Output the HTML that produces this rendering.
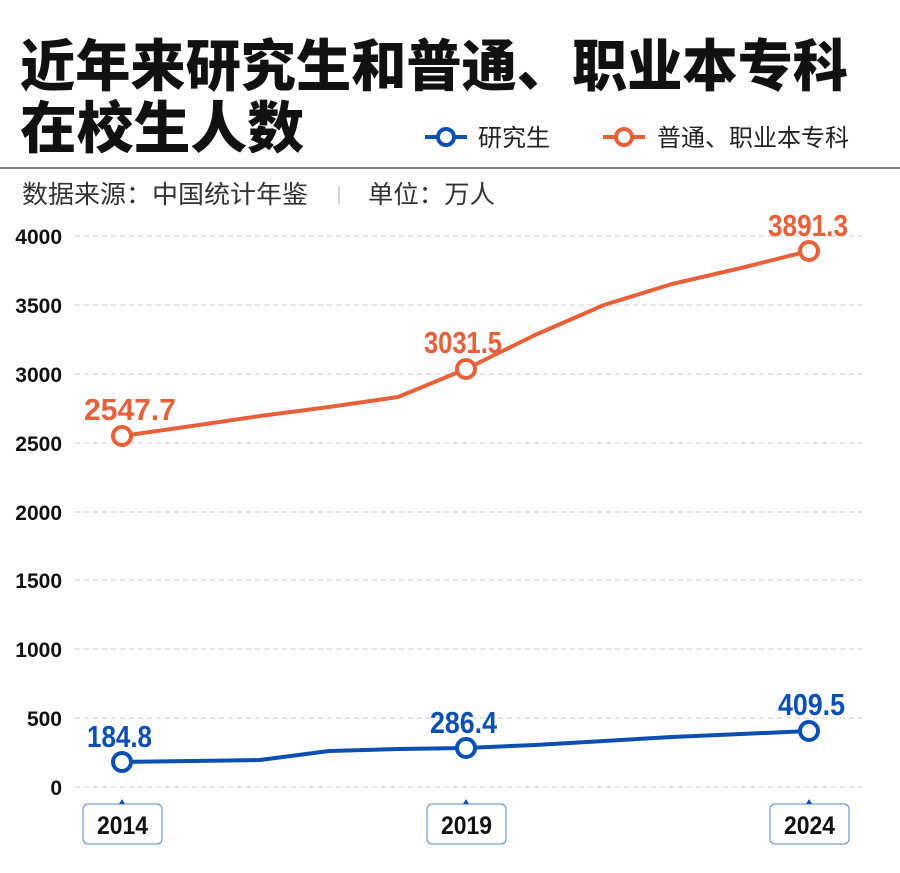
<!DOCTYPE html>
<html><head><meta charset="utf-8"><style>
body{margin:0;background:#fff;}
svg text{font-family:"Liberation Sans","Noto Sans CJK SC",sans-serif;}
</style></head><body>
<svg width="900" height="868" xmlns="http://www.w3.org/2000/svg">
<rect width="900" height="868" fill="#fff"/>
<text x="20" y="86" font-size="56" font-weight="900" fill="#111" textLength="828" lengthAdjust="spacingAndGlyphs" style="font-family:'Noto Sans CJK SC',sans-serif">近年来研究生和普通、职业本专科</text>
<text x="20" y="148" font-size="56" font-weight="900" fill="#111" textLength="284" lengthAdjust="spacingAndGlyphs" style="font-family:'Noto Sans CJK SC',sans-serif">在校生人数</text>
<line x1="425" y1="137" x2="467" y2="137" stroke="#0b4fb3" stroke-width="4"/>
<circle cx="446" cy="137" r="8" fill="#fff" stroke="#0b4fb3" stroke-width="4"/>
<text x="478" y="146" font-size="24" fill="#222" style="font-family:'Noto Sans CJK SC',sans-serif">研究生</text>
<line x1="603" y1="137" x2="645" y2="137" stroke="#e8603a" stroke-width="4"/>
<circle cx="624" cy="137" r="8" fill="#fff" stroke="#e8603a" stroke-width="4"/>
<text x="657" y="146" font-size="24" fill="#222" style="font-family:'Noto Sans CJK SC',sans-serif">普通、职业本专科</text>
<line x1="0" y1="168" x2="900" y2="168" stroke="#555" stroke-width="1.5"/>
<text x="22" y="203" font-size="25" fill="#333" textLength="286" lengthAdjust="spacingAndGlyphs" style="font-family:'Noto Sans CJK SC',sans-serif">数据来源：中国统计年鉴</text>
<line x1="339" y1="186" x2="339" y2="204" stroke="#aaa" stroke-width="1"/>
<text x="368" y="203" font-size="25" fill="#333" textLength="127" lengthAdjust="spacingAndGlyphs" style="font-family:'Noto Sans CJK SC',sans-serif">单位：万人</text>
<g stroke="#ccc" stroke-dasharray="5,4" stroke-width="1">
<line x1="75" y1="236" x2="862" y2="236"/><line x1="75" y1="305" x2="862" y2="305"/>
<line x1="75" y1="374" x2="862" y2="374"/><line x1="75" y1="443" x2="862" y2="443"/>
<line x1="75" y1="512" x2="862" y2="512"/><line x1="75" y1="580" x2="862" y2="580"/>
<line x1="75" y1="649" x2="862" y2="649"/><line x1="75" y1="718" x2="862" y2="718"/>
<line x1="75" y1="787" x2="862" y2="787"/></g>
<g font-size="21" font-weight="bold" fill="#111" text-anchor="end" transform="scale(1,1)">
<text x="62" y="244">4000</text><text x="62" y="313">3500</text><text x="62" y="382">3000</text>
<text x="62" y="451">2500</text><text x="62" y="520">2000</text><text x="62" y="588">1500</text>
<text x="62" y="657">1000</text><text x="62" y="726">500</text><text x="62" y="795">0</text></g>
<polyline fill="none" stroke="#e8603a" stroke-width="4" stroke-linejoin="round" points="122,436 192,426 260,416 329,407 398,397 466,369 535,335 604,305 672,284 741,268 809,251"/>
<polyline fill="none" stroke="#0b4fb3" stroke-width="4" stroke-linejoin="round" points="122,762 192,761 260,760 329,751 398,749 466,748 535,745 604,741 672,737 741,734 809,731"/>
<g fill="#fff" stroke-width="4">
<circle cx="122" cy="436" r="9" stroke="#e8603a"/><circle cx="466" cy="369" r="9" stroke="#e8603a"/><circle cx="809" cy="251" r="9" stroke="#e8603a"/>
<circle cx="122" cy="762" r="9" stroke="#0b4fb3"/><circle cx="466" cy="748" r="9" stroke="#0b4fb3"/><circle cx="809" cy="731" r="9" stroke="#0b4fb3"/></g>
<g font-size="31" font-weight="bold" fill="#e8603a" lengthAdjust="spacingAndGlyphs">
<text x="84" y="420" textLength="92" lengthAdjust="spacingAndGlyphs">2547.7</text><text x="424" y="353" textLength="78" lengthAdjust="spacingAndGlyphs">3031.5</text><text x="768" y="236" textLength="80" lengthAdjust="spacingAndGlyphs">3891.3</text></g>
<g font-size="31" font-weight="bold" fill="#0b4fb3">
<text x="87" y="747" textLength="65" lengthAdjust="spacingAndGlyphs">184.8</text><text x="430" y="733" textLength="67" lengthAdjust="spacingAndGlyphs">286.4</text><text x="778" y="715" textLength="67" lengthAdjust="spacingAndGlyphs">409.5</text></g>
<g fill="#fff" stroke="#5a84c6" stroke-width="1">
<rect x="83" y="804" width="79" height="40" rx="5"/><rect x="427" y="804" width="79" height="40" rx="5"/><rect x="770" y="804" width="79" height="40" rx="5"/></g>
<g fill="#0b4fb3"><path d="M119,804 L122,799 L125,804Z"/><path d="M463,804 L466,799 L469,804Z"/><path d="M806,804 L809,799 L812,804Z"/></g>
<g font-size="25" font-weight="bold" fill="#111">
<text x="97" y="834" textLength="51" lengthAdjust="spacingAndGlyphs">2014</text><text x="441" y="834" textLength="51" lengthAdjust="spacingAndGlyphs">2019</text><text x="784" y="834" textLength="51" lengthAdjust="spacingAndGlyphs">2024</text></g>
</svg>
</body></html>
